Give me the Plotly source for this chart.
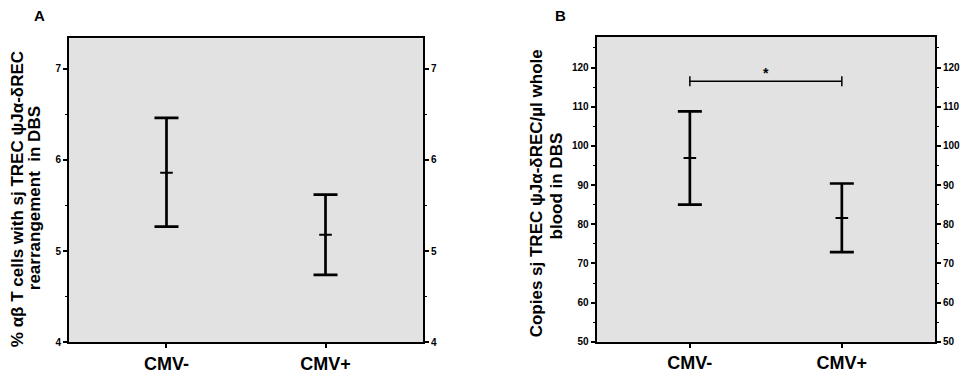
import plotly.graph_objects as go

categories = ["CMV-", "CMV+"]

# Panel A: % alpha-beta T cells with sj TREC rearrangement
a_mean = [5.86, 5.18]
a_upper = [6.46, 5.62]
a_lower = [5.27, 4.74]

# Panel B: copies sj TREC per ul whole blood
b_mean = [96.9, 81.6]
b_upper = [108.8, 90.4]
b_lower = [85.0, 72.9]

sig_y = 116.5
sig_label = "*"

a_title = ["% αβ T cells with sj TREC ψJα-δREC", "rearrangement  in DBS"]
b_title = ["Copies sj TREC ψJα-δREC/µl whole", "blood in DBS"]

W, H = 961, 374
FONT = "Arial"
BG = "#e2e2e2"

xs = list(range(len(categories)))


def err_trace(mean, up, lo, xa, ya):
    return go.Scatter(
        x=xs, y=mean, xaxis=xa, yaxis=ya, mode="markers",
        marker=dict(symbol="line-ew", size=9, color="black",
                    line=dict(width=2, color="black")),
        error_y=dict(type="data", symmetric=False,
                     array=[u - m for u, m in zip(up, mean)],
                     arrayminus=[m - l for m, l in zip(mean, lo)],
                     color="black", thickness=2.7, width=12),
        showlegend=False, hoverinfo="skip",
    )


fig = go.Figure()
fig.add_trace(err_trace(a_mean, a_upper, a_lower, "x", "y"))
fig.add_trace(err_trace(b_mean, b_upper, b_lower, "x2", "y2"))
# invisible traces so the right-hand axes get drawn
fig.add_trace(go.Scatter(x=xs, y=a_mean, xaxis="x", yaxis="y3", mode="markers",
                         marker=dict(opacity=0), showlegend=False, hoverinfo="skip"))
fig.add_trace(go.Scatter(x=xs, y=b_mean, xaxis="x2", yaxis="y4", mode="markers",
                         marker=dict(opacity=0), showlegend=False, hoverinfo="skip"))
fig.add_trace(go.Scatter(
    x=[0, 1], y=[sig_y, sig_y], xaxis="x2", yaxis="y2", mode="lines+markers",
    line=dict(color="black", width=1.3),
    marker=dict(symbol="line-ns", size=7, color="black",
                line=dict(width=1.5, color="black")),
    showlegend=False, hoverinfo="skip"))

tickfont = dict(family=FONT, size=10, color="black", weight="bold")
catfont = dict(family=FONT, size=18, color="black", weight="bold")

def xax(domain, anchor):
    return dict(domain=domain, anchor=anchor, range=[-0.613, 1.613],
                tickvals=xs, ticktext=categories, ticks="outside", ticklen=4,
                tickwidth=1.5, tickcolor="black", showline=True, mirror=True,
                linewidth=2, linecolor="black", showgrid=False, zeroline=False,
                tickfont=catfont, fixedrange=True)

def yax(domain, anchor, rng, dtick, minor, side="left", overlay=None):
    d = dict(domain=domain, anchor=anchor, range=rng, dtick=dtick, tick0=0,
             ticks="outside", ticklen=4, tickwidth=1.5, tickcolor="black",
             showline=True, linewidth=2, linecolor="black", showgrid=False,
             zeroline=False, tickfont=tickfont, side=side,
             minor=dict(dtick=minor, ticks="outside", ticklen=2, tickwidth=1.2,
                        tickcolor="black", showgrid=False))
    if overlay:
        d["overlaying"] = overlay
    return d

ya_dom = [1 - 349 / H, 1 - 39 / H]
yb_dom = [1 - 348.3 / H, 1 - 37.7 / H]
xa_dom = [69 / W, 423 / W]
xb_dom = [596.7 / W, 935 / W]

titlefont = dict(family=FONT, size=17, color="black")

def title_ann(text, px, py):
    return dict(text="<b>" + text + "</b>", x=px / W, y=1 - py / H,
                xref="paper", yref="paper", xanchor="center", yanchor="middle",
                textangle=-90, showarrow=False, font=titlefont)

anns = [
    dict(text="<b>A</b>", x=39 / W, y=1 - 16 / H, xref="paper", yref="paper",
         xanchor="center", yanchor="middle", showarrow=False,
         font=dict(family=FONT, size=15, color="black")),
    dict(text="<b>B</b>", x=560 / W, y=1 - 16 / H, xref="paper", yref="paper",
         xanchor="center", yanchor="middle", showarrow=False,
         font=dict(family=FONT, size=15, color="black")),
    title_ann(a_title[0], 17, 203),
    title_ann(a_title[1], 34, 202),
    title_ann(b_title[0], 536, 197),
    title_ann(b_title[1], 556, 190),
    dict(text="<b>" + sig_label + "</b>", x=0.5, y=sig_y, xref="x2", yref="y2",
         yanchor="bottom", showarrow=False, yshift=-2,
         font=dict(family=FONT, size=14, color="black")),
]

fig.update_layout(
    width=W, height=H, margin=dict(l=0, r=0, t=0, b=0),
    paper_bgcolor="white", plot_bgcolor=BG,
    font=dict(family=FONT, color="black"),
    xaxis=xax(xa_dom, "y"),
    xaxis2=xax(xb_dom, "y2"),
    yaxis=yax(ya_dom, "x", [4, 7.333], 1, 0.5),
    yaxis2=yax(yb_dom, "x2", [50, 127.8], 10, 5),
    yaxis3=yax(ya_dom, "x", [4, 7.333], 1, 0.5, side="right", overlay="y"),
    yaxis4=yax(yb_dom, "x2", [50, 127.8], 10, 5, side="right", overlay="y2"),
    annotations=anns,
)

fig.write_html("out.html")
